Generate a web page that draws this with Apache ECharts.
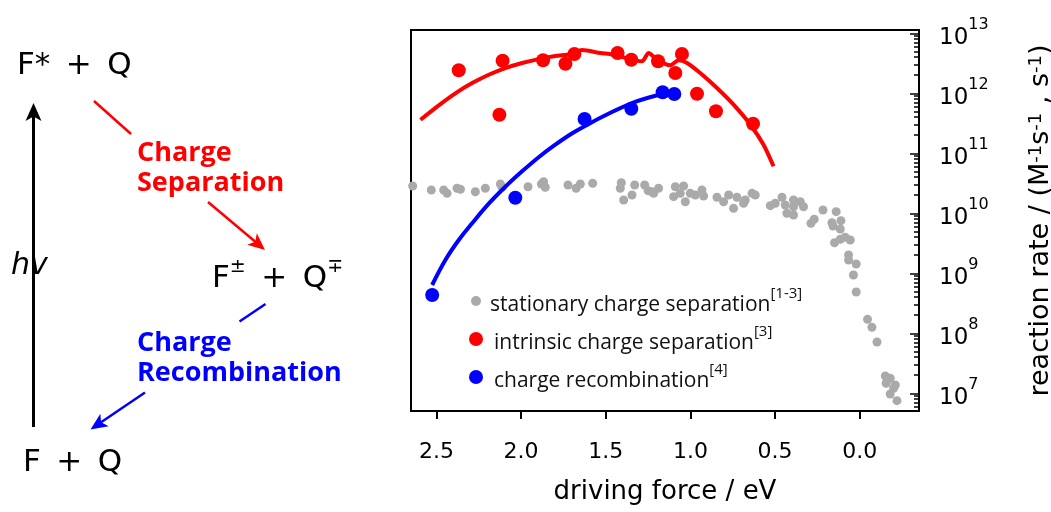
<!DOCTYPE html>
<html>
<head>
<meta charset="utf-8">
<script src="https://cdn.jsdelivr.net/npm/echarts@6/dist/echarts.min.js"></script>
<style>
  html, body { margin: 0; padding: 0; background: #fff; }
  #main { width: 1051px; height: 512px; }
</style>
</head>
<body>
<div id="main"></div>
<script>
// values: driving force in eV, rate as log10(rate)
const statForce = [2.640, 2.530, 2.457, 2.437, 2.378, 2.358, 2.270, 2.211, 2.122, 2.112, 1.959, 1.880, 1.867, 1.857, 1.723, 1.675, 1.650, 1.577, 1.408, 1.414, 1.394, 1.345, 1.329, 1.270, 1.250, 1.227, 1.217, 1.188, 1.089, 1.040, 1.099, 1.060, 1.030, 1.001, 0.971, 0.932, 0.922, 0.843, 0.804, 0.774, 0.745, 0.725, 0.686, 0.676, 0.636, 0.617, 0.528, 0.499, 0.459, 0.440, 0.430, 0.391, 0.391, 0.391, 0.351, 0.332, 0.288, 0.269, 0.217, 0.139, 0.164, 0.158, 0.111, 0.115, 0.149, 0.115, 0.086, 0.056, 0.066, 0.066, 0.021, 0.037, 0.021, -0.046, -0.072, -0.102, -0.151, -0.180, -0.210, -0.156, -0.200, -0.180, -0.220]
const statLogRate = [10.455, 10.388, 10.388, 10.333, 10.417, 10.40, 10.36, 10.417, 10.488, 10.433, 10.443, 10.488, 10.527, 10.433, 10.472, 10.417, 10.488, 10.50, 10.51, 10.417, 10.222, 10.305, 10.472, 10.472, 10.377, 10.36, 10.333, 10.417, 10.443, 10.455, 10.277, 10.333, 10.193, 10.333, 10.305, 10.388, 10.288, 10.267, 10.193, 10.305, 10.083, 10.267, 10.167, 10.222, 10.333, 10.305, 10.127, 10.167, 10.267, 10.138, 10.0, 10.222, 10.11, 9.972, 10.193, 10.11, 9.833, 9.90, 10.055, 10.027, 9.843, 9.788, 9.877, 9.738, 9.51, 9.567, 9.60, 9.555, 9.305, 9.222, 9.155, 8.972, 8.688, 8.233, 8.10, 7.855, 7.288, 7.25, 7.138, 7.167, 7.083, 6.988, 6.877]

const sepForce = [2.368, 2.109, 2.128, 1.870, 1.738, 1.685, 1.430, 1.349, 1.191, 1.050, 1.089, 0.961, 0.849, 0.630]
const sepLogRate = [12.383, 12.543, 11.643, 12.55, 12.493, 12.655, 12.672, 12.56, 12.533, 12.655, 12.338, 11.993, 11.70, 11.493]

const recForce = [2.525, 2.034, 1.625, 1.349, 1.164, 1.095]
const recLogRate = [8.638, 10.26, 11.572, 11.743, 12.017, 11.988]

// fitted curves as drawn in the figure
const sepFitForce = [2.594, 2.486, 2.388, 2.289, 2.191, 2.093, 1.994, 1.896, 1.798, 1.699, 1.640, 1.532, 1.453, 1.286, 1.247, 1.197, 1.119, 1.070, 1.020, 0.942, 0.843, 0.745, 0.646, 0.568, 0.509]
const sepFitLogRate = [11.56, 11.80, 12.0, 12.17, 12.31, 12.42, 12.505, 12.57, 12.62, 12.655, 12.72, 12.672, 12.643, 12.533, 12.672, 12.56, 12.467, 12.55, 12.505, 12.338, 12.088, 11.81, 11.477, 11.143, 10.783]

const recFitForce = [2.525, 2.447, 2.368, 2.289, 2.191, 2.093, 1.994, 1.896, 1.798, 1.700, 1.600, 1.502, 1.345, 1.178]
const recFitLogRate = [8.805, 9.222, 9.555, 9.833, 10.16, 10.443, 10.70, 10.935, 11.143, 11.33, 11.49, 11.633, 11.838, 11.98]

const xTicks = [0, 0.5, 1.0, 1.5, 2.0, 2.5]
const yDecades = [1e7, 1e8, 1e9, 1e10, 1e11, 1e12, 1e13]

const refs = {
  'stationary charge separation': '[1-3]',
  'intrinsic charge separation': '[3]',
  'charge recombination': '[4]'
}

const toPairs = (xs, ls) => xs.map((x, i) => [x, Math.pow(10, ls[i])])

// minor ticks 2..9 x 10^n
const yMinor = []
for (let n = 6; n <= 12; n++) {
  for (let k = 2; k <= 9; k++) yMinor.push(k * Math.pow(10, n))
}

const yMin = Math.pow(10, 6.705)
const yMax = Math.pow(10, 13.055)

const mainFont = 'DejaVu Sans'
const legendFont = 'Open Sans'

// arrow head helper for the scheme on the left
const arrowHead = (x1, y1, x2, y2, len, half, color) => {
  const a = Math.atan2(y2 - y1, x2 - x1)
  const bx = x2 - len * Math.cos(a), by = y2 - len * Math.sin(a)
  const nx = -Math.sin(a) * half, ny = Math.cos(a) * half
  return {
    type: 'polygon',
    shape: { points: [[x2, y2], [bx + nx, by + ny], [bx + len * 0.25 * Math.cos(a), by + len * 0.25 * Math.sin(a)], [bx - nx, by - ny]] },
    style: { fill: color }
  }
}
const seg = (x1, y1, x2, y2, color, w) => ({
  type: 'line',
  shape: { x1, y1, x2, y2 },
  style: { stroke: color, lineWidth: w }
})
const txt = (x, y, text, font, fill, rich) => ({
  type: 'text',
  x, y,
  style: { text, font, fill, verticalAlign: 'middle', rich }
})

const chart = echarts.init(document.getElementById('main'))

const legendRich = {
  t: { fontFamily: legendFont, fontSize: 21, color: '#111', verticalAlign: 'bottom', lineHeight: 30 },
  s: { fontFamily: legendFont, fontSize: 15, color: '#111', verticalAlign: 'top', lineHeight: 16 }
}
const mkLegend = (name, top, size) => ({
  data: [name],
  left: 471 - size / 2,
  top,
  icon: 'circle',
  itemWidth: size,
  itemHeight: size,
  itemGap: 0,
  selectedMode: false,
  formatter: n => '{t|' + n + '}{s|' + refs[n] + '}',
  textStyle: { rich: legendRich, padding: [0, 0, 0, 6 - (14 - size) / 2] }
})

const option = {
  animation: false,
  backgroundColor: '#fff',
  grid: {
    left: 411, right: 132, top: 30, bottom: 101,
    outerBoundsMode: 'none',
    containLabel: false,
    show: true, borderColor: '#000', borderWidth: 2
  },
  legend: [
    mkLegend('stationary charge separation', 281, 10),
    mkLegend('intrinsic charge separation', 319, 14),
    mkLegend('charge recombination', 357, 14)
  ],
  xAxis: {
    type: 'value',
    inverse: true,
    min: -0.35,
    max: 2.65,
    name: 'driving force / eV',
    nameLocation: 'middle',
    nameGap: 68,
    nameTextStyle: { fontFamily: mainFont, fontSize: 26, color: '#000' },
    axisLine: { onZero: false, lineStyle: { color: '#000', width: 2 } },
    axisTick: { customValues: xTicks, length: 8, lineStyle: { color: '#000', width: 2 } },
    axisLabel: {
      customValues: xTicks,
      formatter: v => v.toFixed(1),
      fontFamily: mainFont, fontSize: 22, color: '#000', margin: 30
    },
    splitLine: { show: false }
  },
  yAxis: [
    {
      type: 'log',
      logBase: 10,
      position: 'right',
      min: yMin,
      max: yMax,
      name: 'reaction rate / (M{s|-1}s{s|-1} , s{s|-1})',
      nameLocation: 'middle',
      nameRotate: 90,
      nameGap: 108,
      nameTextStyle: {
        fontFamily: mainFont, fontSize: 27, color: '#000',
        rich: {
          s: { fontFamily: mainFont, fontSize: 18, color: '#000', verticalAlign: 'top', lineHeight: 18 }
        }
      },
      axisLine: { show: true, onZero: false, lineStyle: { color: '#000', width: 2 } },
      axisTick: { inside: true, customValues: yDecades, length: 9, lineStyle: { color: '#000', width: 1.5 } },
      axisLabel: {
        customValues: yDecades,
        margin: 20,
        formatter: v => '{b|10}{e|' + Math.round(Math.log10(v)) + '}',
        rich: {
          b: { fontFamily: mainFont, fontSize: 23, color: '#000', verticalAlign: 'bottom', lineHeight: 32 },
          e: { fontFamily: mainFont, fontSize: 16, color: '#000', verticalAlign: 'top', lineHeight: 17 }
        }
      },
      splitLine: { show: false }
    },
    {
      type: 'log',
      logBase: 10,
      position: 'right',
      min: yMin,
      max: yMax,
      axisLine: { show: false, onZero: false },
      axisTick: { inside: true, customValues: yMinor, length: 5, lineStyle: { color: '#000', width: 1.5 } },
      axisLabel: { show: false },
      splitLine: { show: false }
    }
  ],
  series: [
    {
      name: 'stationary charge separation',
      type: 'scatter',
      data: toPairs(statForce, statLogRate),
      symbolSize: 9,
      itemStyle: { color: '#aaaaaa', opacity: 1 },
      z: 2
    },
    {
      name: 'sep fit',
      type: 'line',
      data: toPairs(sepFitForce, sepFitLogRate),
      showSymbol: false,
      smooth: 0.25,
      lineStyle: { color: '#ff0000', width: 4 },
      z: 3
    },
    {
      name: 'rec fit',
      type: 'line',
      data: toPairs(recFitForce, recFitLogRate),
      showSymbol: false,
      smooth: 0.4,
      lineStyle: { color: '#0000ff', width: 4 },
      z: 3
    },
    {
      name: 'intrinsic charge separation',
      type: 'scatter',
      data: toPairs(sepForce, sepLogRate),
      symbolSize: 14,
      itemStyle: { color: '#ff0000', opacity: 1 },
      z: 4
    },
    {
      name: 'charge recombination',
      type: 'scatter',
      data: toPairs(recForce, recLogRate),
      symbolSize: 14,
      itemStyle: { color: '#0000ff', opacity: 1 },
      z: 4
    }
  ],
  graphic: [
    txt(17, 66, 'F*\u2002+\u2002Q', '31px "DejaVu Sans"', '#000'),
    seg(33.5, 427, 33.5, 250, '#000', 3),
    seg(33.5, 285, 33.5, 112, '#000', 3),
    arrowHead(33.5, 200, 33.5, 103, 18, 8, '#000'),
    txt(11, 266, 'hv', 'italic 30px "DejaVu Sans"', '#000'),
    seg(94, 101, 131, 134, '#ff0000', 2.5),
    txt(137, 153, 'Charge', 'bold 27px "Open Sans"', '#ff0000'),
    txt(137, 183, 'Separation', 'bold 27px "Open Sans"', '#ff0000'),
    seg(208, 202, 258, 244, '#ff0000', 2.5),
    arrowHead(208, 202, 265, 250, 17, 7.5, '#ff0000'),
    txt(212, 276, '{m|F}{s|\u00b1}{m|\u2002+\u2002Q}{s|\u2213}', '31px "DejaVu Sans"', '#000', {
      m: { fontFamily: mainFont, fontSize: 31, verticalAlign: 'bottom', lineHeight: 36 },
      s: { fontFamily: mainFont, fontSize: 19, verticalAlign: 'top', lineHeight: 18 }
    }),
    seg(265.5, 304, 239.5, 321.5, '#0000ff', 2.5),
    txt(137, 343, 'Charge', 'bold 27px "Open Sans"', '#0000ff'),
    txt(137, 373, 'Recombination', 'bold 27px "Open Sans"', '#0000ff'),
    seg(145, 392.5, 97, 425, '#0000ff', 2.5),
    arrowHead(145, 392.5, 90.5, 429.5, 17, 7.5, '#0000ff'),
    txt(23, 463, 'F\u2002+\u2002Q', '31px "DejaVu Sans"', '#000')
  ]
}

chart.setOption(option)
</script>
</body>
</html>
